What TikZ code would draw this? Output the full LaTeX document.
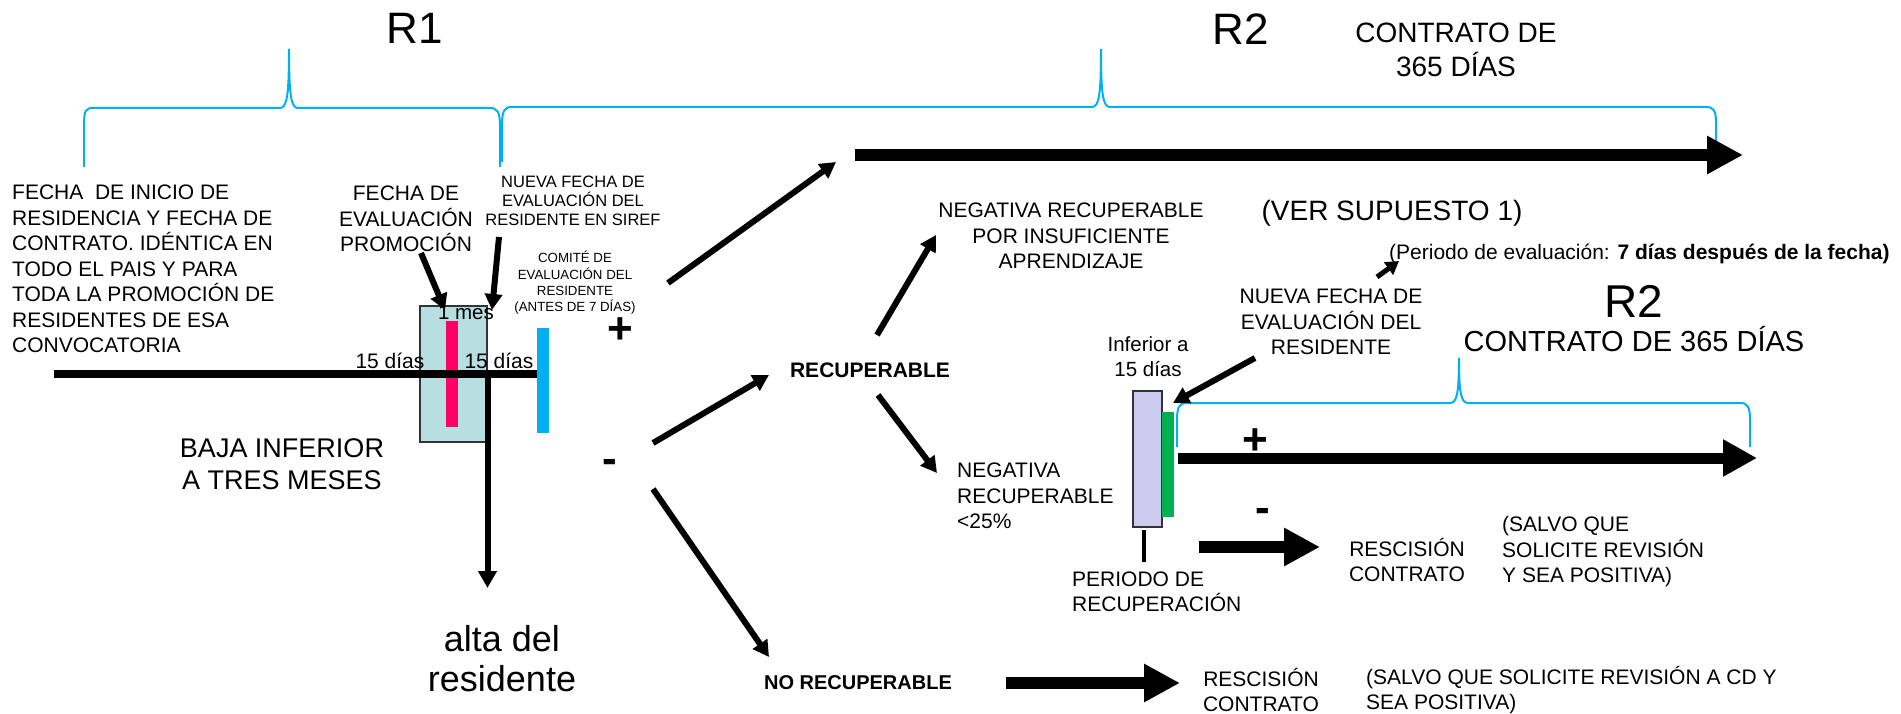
\documentclass[tikz,border=0pt]{standalone}
\usepackage{fontspec}
\setmainfont{Liberation Sans}
\usetikzlibrary{arrows.meta}
\newcommand\fz[2]{\fontsize{#1}{#2}\selectfont}
\definecolor{braceblue}{HTML}{00B0F0}
\definecolor{boxteal}{HTML}{B7DFE2}
\definecolor{magbar}{HTML}{FF0066}
\definecolor{lavbox}{HTML}{CCCCEE}
\definecolor{grnbar}{HTML}{00B050}
\begin{document}
\begin{tikzpicture}[x=1pt,y=-1pt,
  txt/.style={inner sep=0pt, align=center, font=\fz{21}{25.5}},
  txtl/.style={inner sep=0pt, align=left, anchor=west, font=\fz{21}{25.5}},
  sym/.style={inner sep=0pt, font=\bfseries\fz{44}{50}},
  thinarrow/.style={line width=6pt, -{Triangle[length=16pt,width=17pt]}},
  blockarrow/.style={line width=12pt, -{Triangle[length=36pt,width=36pt]}},
  bracepath/.style={draw=braceblue, line width=2pt},
  outlinebox/.style={draw=black!80, line width=2pt},
]
\useasboundingbox (0,0) rectangle (1901,714);

% ---------- braces ----------
\draw[bracepath] (84,167) -- (84,125) .. controls (84,110) and (86,108) .. (93,108)
  -- (280,108) .. controls (287,108) and (289,95) .. (289,49)
  .. controls (289,95) and (291,108) .. (298,108) -- (490,108)
  .. controls (497,108) and (500,112) .. (500,125) -- (500,167);
\draw[bracepath] (502,162) -- (502,125) .. controls (502,110) and (505,107) .. (512,107)
  -- (1092,107) .. controls (1099,107) and (1101,95) .. (1101,49)
  .. controls (1101,95) and (1103,107) .. (1110,107) -- (1706,107)
  .. controls (1713,107) and (1716,110) .. (1716,122) -- (1716,142);
\draw[bracepath] (1177,447) -- (1177,420) .. controls (1177,406) and (1180,403) .. (1187,403)
  -- (1450,403) .. controls (1457,403) and (1459,393) .. (1459,358)
  .. controls (1459,393) and (1461,403) .. (1468,403) -- (1740,403)
  .. controls (1747,403) and (1750,406) .. (1750,420) -- (1750,447);

% ---------- boxes and bars ----------
\path[fill=boxteal, outlinebox] (420,306) rectangle (487,442);
\fill[magbar] (446,321) rectangle (458,427);
\fill[braceblue] (537,328) rectangle (549,433);
\path[fill=lavbox, outlinebox] (1133,391) rectangle (1162,527);
\fill[grnbar] (1162,412) rectangle (1174,517);
\draw[line width=4pt] (1144,530) -- (1144,562);

% ---------- coordinates ----------
\coordinate (tl0) at (54,374);
\coordinate (tl1) at (537,374);
\coordinate (vd0) at (487.5,370);
\coordinate (vd1) at (487.5,588);
\coordinate (pa0) at (421,253);
\coordinate (pa1) at (445,310);
\coordinate (na0) at (499,237);
\coordinate (na1) at (492,310);
\coordinate (up0) at (668,283);
\coordinate (up1) at (836,162);
\coordinate (rc0) at (653,443);
\coordinate (rc1) at (769,375);
\coordinate (nr0) at (653,489);
\coordinate (nr1) at (769,657);
\coordinate (ni0) at (877,335);
\coordinate (ni1) at (936,235);
\coordinate (n25a) at (878,395);
\coordinate (n25b) at (937,473);
\coordinate (lb0) at (1255,358);
\coordinate (lb1) at (1173,403);
\coordinate (sm0) at (1377,277);
\coordinate (sm1) at (1399,261);
\coordinate (ta0) at (855,155);
\coordinate (ta1) at (1743,155);
\coordinate (la0) at (1178,458);
\coordinate (la1) at (1757,458);
\coordinate (ma0) at (1199,547);
\coordinate (ma1) at (1320,547);
\coordinate (ba0) at (1006,683);
\coordinate (ba1) at (1180,683);

% ---------- lines and arrows ----------
\draw[line width=8.5pt] (tl0) -- (tl1);
\draw[line width=6pt, -{Triangle[length=17pt,width=18pt]}] (vd0) -- (vd1);
\draw[thinarrow] (pa0) -- (pa1);
\draw[thinarrow] (na0) -- (na1);
\draw[thinarrow] (up0) -- (up1);
\draw[thinarrow] (rc0) -- (rc1);
\draw[thinarrow] (nr0) -- (nr1);
\draw[thinarrow] (ni0) -- (ni1);
\draw[thinarrow] (n25a) -- (n25b);
\draw[thinarrow] (lb0) -- (lb1);
\draw[line width=5pt, -{Triangle[length=13pt,width=15pt]}] (sm0) -- (sm1);
\draw[blockarrow] (ta0) -- (ta1);
\draw[line width=11pt, -{Triangle[length=34pt,width=35pt]}] (la0) -- (la1);
\draw[blockarrow] (ma0) -- (ma1);
\draw[blockarrow] (ba0) -- (ba1);

% ---------- texts ----------
\node[txt, font=\fz{44}{50}] (r1) at (415,28) {R1};
\node[txt, font=\fz{44}{50}] (r2a) at (1241,29) {R2};
\node[txt, font=\fz{28}{34}] (c365a) at (1456,50) {CONTRATO DE\\365 DÍAS};
\node[txtl] (fechaini) at (12,269) {FECHA\ \ DE INICIO DE\\RESIDENCIA Y FECHA DE\\CONTRATO. IDÉNTICA EN\\TODO EL PAIS Y PARA\\TODA LA PROMOCIÓN DE\\RESIDENTES DE ESA\\CONVOCATORIA};
\node[txt] (fevalprom) at (406,219) {FECHA DE\\EVALUACIÓN\\PROMOCIÓN};
\node[txt, font=\fz{16.5}{19}] (nuevasiref) at (573,201) {NUEVA FECHA DE\\EVALUACIÓN DEL\\RESIDENTE EN SIREF};
\node[txt, font=\fz{13.3}{16.3}] (comite) at (575,283) {COMITÉ DE\\EVALUACIÓN DEL\\RESIDENTE\\(ANTES DE 7 DÍAS)};
\node[sym] (plus1) at (620,331) {+};
\node[txt, font=\fz{20.5}{24}] (mes) at (466,313) {1 mes};
\node[txt] (d15a) at (390,361) {15 días};
\node[txt] (d15b) at (499,361) {15 días};
\node[txt, font=\fz{27}{32}] (baja) at (282,464) {BAJA INFERIOR\\A TRES MESES};
\node[sym] (minus1) at (610,466) {-};
\node[txt, font=\fz{36}{40}] (alta) at (502,659) {alta del\\residente};
\node[txt] (negins) at (1071,236) {NEGATIVA RECUPERABLE\\POR INSUFICIENTE\\APRENDIZAJE};
\node[txt, font=\fz{28}{34}] (ver) at (1392,213) {(VER SUPUESTO 1)};
\node[txt, anchor=west] (periodo) at (1389,254) {(Periodo de evaluación: \textbf{7 días después de la fecha)}};
\node[txt] (nuevares) at (1331,322) {NUEVA FECHA DE\\EVALUACIÓN DEL\\RESIDENTE};
\node[txt, font=\fz{46}{50}] (r2b) at (1634,301) {R2};
\node[txt, font=\fz{29}{34}] (c365b) at (1634,339) {CONTRATO DE 365 DÍAS};
\node[txt, font=\fz{20.5}{25}] (inf15) at (1148,357) {Inferior a\\15 días};
\node[txt, font=\bfseries\fz{21}{25}] (recup) at (870,370) {RECUPERABLE};
\node[txtl] (neg25) at (957,496) {NEGATIVA\\RECUPERABLE\\<25\%};
\node[txtl] (perrec) at (1072,592) {PERIODO DE\\RECUPERACIÓN};
\node[sym] (plus2) at (1255,442) {+};
\node[sym] (minus2) at (1263,515) {-};
\node[txt] (resc1) at (1407,560) {RESCISIÓN\\CONTRATO};
\node[txtl] (salvo1) at (1502,552) {(SALVO QUE\\SOLICITE REVISIÓN\\Y SEA POSITIVA)};
\node[txt, font=\bfseries\fz{20}{25}] (norec) at (858,683) {NO RECUPERABLE};
\node[txt] (resc2) at (1261,690) {RESCISIÓN\\CONTRATO};
\node[txtl] (salvo2) at (1366,690) {(SALVO QUE SOLICITE REVISIÓN A CD Y\\SEA POSITIVA)};
\end{tikzpicture}
\end{document}
